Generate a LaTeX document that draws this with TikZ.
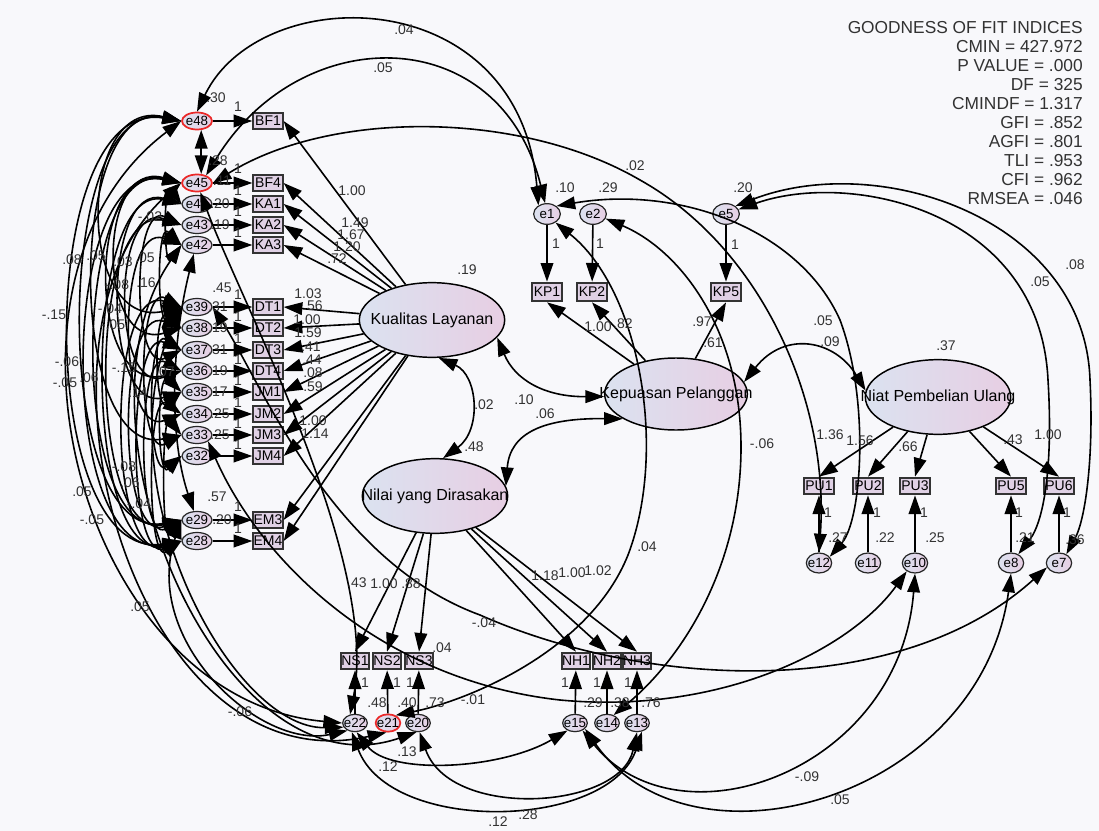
\documentclass[tikz,border=0pt]{standalone}
\usepackage{fontspec}
\setmainfont{Liberation Sans}
\usetikzlibrary{arrows.meta,shapes.geometric}
\definecolor{bgc}{RGB}{248,248,251}
\definecolor{boxfill}{RGB}{224,209,229}
\definecolor{lblue}{RGB}{219,226,240}
\definecolor{lpink}{RGB}{231,206,227}
\definecolor{txtc}{RGB}{50,50,50}
\definecolor{redc}{RGB}{235,40,40}
\newcommand\zb[1]{\makebox[0pt]{#1}}
\newcounter{labc}
\newcommand\mylab[3]{\stepcounter{labc}\node[lbl] (lab\arabic{labc}) at (#1,#2) {#3};}
\tikzset{
  obs/.style={rectangle, draw=black!80, line width=1.5pt, fill=boxfill, minimum width=22pt, minimum height=12.5pt, inner sep=0pt, font=\fontsize{10.5}{12}\selectfont},
  errl/.style={ellipse, draw=black!85, line width=0.9pt, left color=lblue, right color=lpink, minimum width=22.5pt, minimum height=12.75pt, inner sep=0pt, font=\fontsize{10}{12}\selectfont},
  errc/.style={errl, minimum width=20pt, minimum height=15.5pt},
  errb/.style={errl, minimum width=18.5pt, minimum height=13pt},
  lat/.style={ellipse, draw=black, line width=1.1pt, left color=lblue, right color=lpink, minimum width=109pt, minimum height=56pt, inner sep=0pt, font=\fontsize{12}{14}\selectfont},
  lbl/.style={font=\fontsize{10.5}{12}\selectfont, text=txtc, inner sep=0pt},
  gof/.style={anchor=north east, align=right, inner sep=0pt, font=\fontsize{13}{14.3}\selectfont, text=txtc},
  arr/.style={->, line width=1.2pt, black},
  cov/.style={<->, line width=1.2pt, black},
  >={Triangle[length=14pt,width=9.5pt]}
}
\begin{document}
\begin{tikzpicture}[x=0.75pt,y=-0.75pt]
\fill[bgc] (0,0) rectangle (1099,831);
\useasboundingbox (0,0) rectangle (1099,831);

% ---------- latent variables
\node[lat] (KL) at (432,320) {\zb{Kualitas Layanan}};
\node[lat] (NYD) at (435,496) {\zb{Nilai yang Dirasakan}};
\node[lat, minimum width=107pt, minimum height=54pt] (KPL) at (676,394) {\zb{Kepuasan Pelanggan}};
\node[lat] (NPU) at (938,397) {\zb{Niat Pembelian Ulang}};

% ---------- left indicators and errors
\foreach \n/\y in {BF1/121,BF4/183,KA1/204,KA2/225,KA3/245,DT1/307,DT2/328,DT3/350,DT4/371,JM1/392,JM2/414,JM3/435,JM4/456,EM3/520,EM4/541}
  {\node[obs] (\n) at (268,\y) {\n};}
\node[errl, draw=redc, line width=1.3pt] (e48) at (197,121) {\zb{e48}};
\node[errl, draw=redc, line width=1.3pt] (e45) at (197,183) {\zb{e45}};
\foreach \n/\y in {e44/204,e43/225,e42/245,e39/307,e38/328,e37/350,e36/371,e35/392,e34/414,e33/435,e32/456,e29/520,e28/541}
  {\node[errl] (\n) at (197,\y) {\zb{\n}};}

% ---------- KP
\node[obs, minimum height=14pt] (KP1) at (547,292) {KP1};
\node[obs, minimum height=14pt] (KP2) at (592,292) {KP2};
\node[obs, minimum height=14pt] (KP5) at (726,292) {KP5};
\node[errc] (e1) at (547,214) {\zb{e1}};
\node[errc] (e2) at (593,214) {\zb{e2}};
\node[errc] (e5) at (726,214) {\zb{e5}};

% ---------- PU
\foreach \n/\x in {PU1/819,PU2/868,PU3/915,PU5/1011,PU6/1059}
  {\node[obs] (\n) at (\x,486) {\n};}
\foreach \n/\x in {e12/819,e11/868,e10/915,e8/1011,e7/1059}
  {\node[errc, minimum width=19pt, minimum height=15pt] (\n) at (\x,563) {\zb{\n}};}

% ---------- NS / NH
\foreach \n/\x in {NS1/355,NS2/387,NS3/419,NH1/576,NH2/607,NH3/637}
  {\node[obs, minimum width=21pt] (\n) at (\x,661) {\n};}
\node[errb] (e22) at (355,723) {\zb{e22}};
\node[errb, draw=redc, line width=1.3pt] (e21) at (388,723) {\zb{e21}};
\node[errb] (e20) at (418,723) {\zb{e20}};
\node[errb] (e15) at (575,723) {\zb{e15}};
\node[errb] (e14) at (607,723) {\zb{e14}};
\node[errb] (e13) at (637,723) {\zb{e13}};

% ---------- fit indices
\node[gof] (gof) at (1083,21) {GOODNESS OF FIT INDICES\\CMIN = 427.972\\P VALUE = .000\\DF = 325\\CMINDF = 1.317\\GFI = .852\\AGFI = .801\\TLI = .953\\CFI = .962\\RMSEA = .046};

% ---------- regression arrows
\foreach \e/\b in {e48/BF1,e45/BF4,e44/KA1,e43/KA2,e42/KA3,e39/DT1,e38/DT2,e37/DT3,e36/DT4,e35/JM1,e34/JM2,e33/JM3,e32/JM4,e29/EM3,e28/EM4}
  {\draw[arr] (\e) -- (\b);}
\foreach \b in {BF1,BF4,KA1,KA2,KA3,DT1,DT2,DT3,DT4,JM1,JM2,JM3,JM4,EM3,EM4}
  {\draw[arr] (KL) -- (\b.east);}
\foreach \b in {NS1,NS2,NS3,NH1,NH2,NH3}
  {\draw[arr] (NYD) -- (\b.north);}
\foreach \e/\b in {e22/NS1,e21/NS2,e20/NS3,e15/NH1,e14/NH2,e13/NH3,e1/KP1,e2/KP2,e5/KP5,e12/PU1,e11/PU2,e10/PU3,e8/PU5,e7/PU6}
  {\draw[arr] (\e) -- (\b);}
\foreach \b in {KP1,KP2,KP5}
  {\draw[arr] (KPL) -- (\b.south);}
\foreach \b in {PU1,PU2,PU3,PU5,PU6}
  {\draw[arr] (NPU) -- (\b.north);}

% ---------- structural covariances
\draw[cov] (KL.-80) .. controls (478,375) and (482,430) .. (NYD.78);
\draw[cov] (KL.-15) .. controls (515,380) and (545,397) .. (KPL.182);
\draw[cov] (NYD.8) .. controls (510,432) and (545,418) .. (KPL.205);
\draw[cov] (KPL.10) .. controls (785,330) and (835,340) .. (NPU.175);

% ---------- left arcs
\foreach \a/\b/\d in {e48/e28/147,e48/e29/130,e45/e28/125,e45/e29/112,e44/e28/100,e48/e33/115,e43/e29/95,e44/e35/80,e43/e36/70,e42/e34/65,e45/e38/85,e39/e28/75,e38/e29/65,e37/e28/55,e36/e29/45,e39/e33/45,e37/e32/35,e42/e39/25,e44/e42/18,e35/e32/25,e34/e28/35,e38/e35/28,e43/e37/50,e33/e29/20,e45/e36/95,e48/e39/105}
  {\draw[cov] (\a.west) .. controls +(-\d,-25) and +(-\d,25) .. (\b.west);}

% ---------- left cluster to bottom
\draw[cov] (e48.west) .. controls (-30,280) and (80,700) .. (e22.west);
\draw[cov] (e45.west) .. controls (10,330) and (130,790) .. (e21.-100);
\draw[cov] (e42.west) .. controls (60,420) and (220,800) .. (e20.-100);
\draw[cov] (e39.west) .. controls (100,480) and (230,730) .. (e22.200);
\draw[cov] (e29.west) .. controls (140,640) and (260,750) .. (e22.-135);
\draw[cov] (e45.-70) .. controls (240,300) and (380,560) .. (e22.120);
\draw[cov] (e42.-110) .. controls (170,350) and (170,440) .. (e29.110);
\draw[cov] (e48.-65) -- (e45.65);

% ---------- long covariances
\draw[cov] (e48.north) .. controls (260,-20) and (520,-20) .. (e1.135);
\draw[cov] (e45.40) .. controls (300,20) and (500,20) .. (e1.100);
\draw[cov] (e45.east) .. controls (330,110) and (520,110) .. (640,180) .. controls (760,247) and (830,400) .. (e12.north);
\draw[cov] (e1.40) .. controls (680,185) and (800,230) .. (840,320) .. controls (870,400) and (862,520) .. (e12.30);
\draw[cov] (e5.20) .. controls (850,170) and (1040,210) .. (1048,380) .. controls (1053,460) and (1045,520) .. (e8.50);
\draw[cov] (e5.40) .. controls (880,150) and (1085,220) .. (1090,380) .. controls (1094,460) and (1085,520) .. (e7.50);
\draw[cov] (e2.-20) .. controls (680,250) and (742,330) .. (741,450) .. controls (740,570) and (680,660) .. (e14.50);
\draw[cov] (e1.-45) .. controls (640,290) and (668,450) .. (628,555) .. controls (590,650) and (470,700) .. (e21.45);
\draw[cov] (e39.east) .. controls (260,380) and (330,560) .. (480,615) .. controls (650,690) and (900,700) .. (e7.200);
\draw[cov] (e33.-30) .. controls (260,560) and (380,680) .. (560,700) .. controls (720,715) and (850,650) .. (e10.225);

% ---------- bottom covariances
\draw[cov] (e22.-80) .. controls (390,775) and (500,770) .. (e15.-135);
\draw[cov] (e20.-80) .. controls (450,820) and (620,810) .. (e13.-90);
\draw[cov] (e22.-110) .. controls (390,835) and (610,830) .. (e13.-60);
\draw[cov] (e15.-45) .. controls (680,850) and (900,770) .. (e10.-90);
\draw[cov] (e15.-30) .. controls (690,880) and (980,800) .. (e8.-90);

% ---------- labels
\mylab{216}{98}{.30}
\mylab{238}{107}{1}
\mylab{218}{161}{.28}
\mylab{238}{169}{1}
\mylab{222}{181}{.11}
\mylab{238}{191}{1}
\mylab{220}{204}{.20}
\mylab{238}{212}{1}
\mylab{220}{225}{.19}
\mylab{238}{233}{1}
\mylab{222}{288}{.45}
\mylab{238}{295}{1}
\mylab{218}{307}{.31}
\mylab{238}{317}{1}
\mylab{218}{328}{.19}
\mylab{238}{339}{1}
\mylab{218}{350}{.31}
\mylab{238}{360}{1}
\mylab{218}{371}{.19}
\mylab{238}{381}{1}
\mylab{218}{392}{.17}
\mylab{238}{403}{1}
\mylab{220}{414}{.25}
\mylab{238}{424}{1}
\mylab{220}{435}{.25}
\mylab{238}{445}{1}
\mylab{217}{497}{.57}
\mylab{238}{507}{1}
\mylab{222}{520}{.20}
\mylab{238}{529}{1}
\mylab{352}{191}{1.00}
\mylab{355}{223}{1.49}
\mylab{351}{235}{1.67}
\mylab{347}{247}{1.20}
\mylab{337}{259}{.72}
\mylab{308}{294}{1.03}
\mylab{313}{306}{.56}
\mylab{307}{320}{1.00}
\mylab{308}{333}{1.59}
\mylab{311}{347}{.41}
\mylab{312}{360}{.44}
\mylab{313}{373}{.08}
\mylab{313}{387}{.59}
\mylab{313}{421}{1.00}
\mylab{315}{434}{1.14}
\mylab{467}{270}{.19}
\mylab{474}{447}{.48}
\mylab{713}{343}{.61}
\mylab{946}{346}{.37}
\mylab{484}{405}{.02}
\mylab{524}{400}{.10}
\mylab{545}{414}{.06}
\mylab{830}{342}{.09}
\mylab{565}{188}{.10}
\mylab{608}{188}{.29}
\mylab{743}{188}{.20}
\mylab{635}{166}{.02}
\mylab{556}{244}{1}
\mylab{600}{244}{1}
\mylab{735}{245}{1}
\mylab{598}{327}{1.00}
\mylab{623}{324}{.82}
\mylab{702}{322}{.97}
\mylab{830}{435}{1.36}
\mylab{860}{441}{1.56}
\mylab{908}{447}{.66}
\mylab{1013}{440}{.43}
\mylab{1048}{435}{1.00}
\mylab{828}{513}{1}
\mylab{877}{513}{1}
\mylab{924}{513}{1}
\mylab{1019}{513}{1}
\mylab{1067}{513}{1}
\mylab{838}{538}{.27}
\mylab{885}{538}{.22}
\mylab{935}{538}{.25}
\mylab{1025}{538}{.21}
\mylab{1075}{540}{.36}
\mylab{823}{321}{.05}
\mylab{1040}{282}{.05}
\mylab{1075}{265}{.08}
\mylab{762}{444}{-.06}
\mylab{647}{547}{.04}
\mylab{357}{583}{.43}
\mylab{384}{584}{1.00}
\mylab{411}{584}{.88}
\mylab{545}{576}{1.18}
\mylab{572}{573}{1.00}
\mylab{598}{571}{1.02}
\mylab{365}{683}{1}
\mylab{397}{683}{1}
\mylab{410}{683}{1}
\mylab{565}{683}{1}
\mylab{597}{683}{1}
\mylab{628}{683}{1}
\mylab{377}{703}{.48}
\mylab{407}{703}{.40}
\mylab{435}{703}{.73}
\mylab{473}{700}{-.01}
\mylab{593}{703}{.29}
\mylab{620}{703}{.38}
\mylab{651}{703}{.76}
\mylab{442}{648}{.04}
\mylab{484}{623}{-.04}
\mylab{407}{752}{.13}
\mylab{388}{767}{.12}
\mylab{528}{815}{.28}
\mylab{498}{822}{.12}
\mylab{807}{777}{-.09}
\mylab{840}{800}{.05}
\mylab{404}{30}{.04}
\mylab{383}{68}{.05}
\mylab{72}{260}{.08}
\mylab{96}{256}{.05}
\mylab{54}{315}{-.15}
\mylab{67}{362}{-.06}
\mylab{65}{383}{-.05}
\mylab{89}{378}{.06}
\mylab{82}{492}{.05}
\mylab{92}{520}{-.05}
\mylab{140}{607}{.05}
\mylab{240}{712}{-.06}
\mylab{123}{262}{.03}
\mylab{145}{258}{.05}
\mylab{117}{285}{-.08}
\mylab{146}{283}{.16}
\mylab{110}{309}{-.04}
\mylab{113}{325}{-.05}
\mylab{124}{368}{-.15}
\mylab{165}{372}{.07}
\mylab{138}{393}{.14}
\mylab{124}{467}{-.08}
\mylab{130}{483}{.06}
\mylab{139}{504}{-.04}
\mylab{150}{217}{-.02}
\end{tikzpicture}
\end{document}
